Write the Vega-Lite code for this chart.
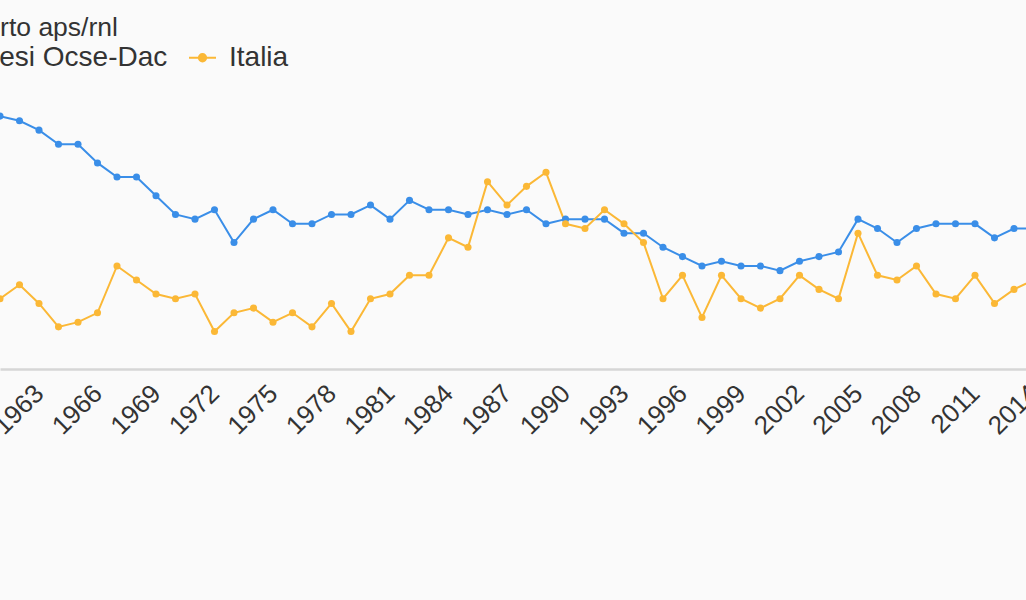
{
  "$schema": "https://vega.github.io/schema/vega-lite/v6.json",
  "width": 1053,
  "height": 281,
  "autosize": {"type": "none"},
  "padding": {"left": 0, "top": 88, "right": -27, "bottom": 231},
  "background": "#fafafa",
  "title": {
    "text": "Rapporto aps/rnl",
    "anchor": "start",
    "frame": "group",
    "dx": -78,
    "offset": -19,
    "baseline": "alphabetic",
    "fontSize": 26.5,
    "font": "Liberation Sans",
    "fontWeight": "normal",
    "color": "#333333"
  },
  "config": {
    "view": {"stroke": null},
    "legend": {
      "orient": "none",
      "legendX": -76,
      "legendY": -45,
      "direction": "horizontal",
      "labelFontSize": 28,
      "labelFont": "Liberation Sans",
      "labelColor": "#333333",
      "labelLimit": 400,
      "symbolType": "M-1,0L1,0M-0.27,0A0.27,0.27,0,1,1,0.27,0A0.27,0.27,0,1,1,-0.27,0Z",
      "symbolSize": 729,
      "symbolStrokeWidth": 2,
      "labelOffset": 12,
      "columnPadding": 17
    }
  },
  "data": {
    "values": [
      {"anno": 1961, "serie": "Paesi Ocse-Dac", "valore": 0.54},
      {"anno": 1962, "serie": "Paesi Ocse-Dac", "valore": 0.53},
      {"anno": 1963, "serie": "Paesi Ocse-Dac", "valore": 0.51},
      {"anno": 1964, "serie": "Paesi Ocse-Dac", "valore": 0.48},
      {"anno": 1965, "serie": "Paesi Ocse-Dac", "valore": 0.48},
      {"anno": 1966, "serie": "Paesi Ocse-Dac", "valore": 0.44},
      {"anno": 1967, "serie": "Paesi Ocse-Dac", "valore": 0.41},
      {"anno": 1968, "serie": "Paesi Ocse-Dac", "valore": 0.41},
      {"anno": 1969, "serie": "Paesi Ocse-Dac", "valore": 0.37},
      {"anno": 1970, "serie": "Paesi Ocse-Dac", "valore": 0.33},
      {"anno": 1971, "serie": "Paesi Ocse-Dac", "valore": 0.32},
      {"anno": 1972, "serie": "Paesi Ocse-Dac", "valore": 0.34},
      {"anno": 1973, "serie": "Paesi Ocse-Dac", "valore": 0.27},
      {"anno": 1974, "serie": "Paesi Ocse-Dac", "valore": 0.32},
      {"anno": 1975, "serie": "Paesi Ocse-Dac", "valore": 0.34},
      {"anno": 1976, "serie": "Paesi Ocse-Dac", "valore": 0.31},
      {"anno": 1977, "serie": "Paesi Ocse-Dac", "valore": 0.31},
      {"anno": 1978, "serie": "Paesi Ocse-Dac", "valore": 0.33},
      {"anno": 1979, "serie": "Paesi Ocse-Dac", "valore": 0.33},
      {"anno": 1980, "serie": "Paesi Ocse-Dac", "valore": 0.35},
      {"anno": 1981, "serie": "Paesi Ocse-Dac", "valore": 0.32},
      {"anno": 1982, "serie": "Paesi Ocse-Dac", "valore": 0.36},
      {"anno": 1983, "serie": "Paesi Ocse-Dac", "valore": 0.34},
      {"anno": 1984, "serie": "Paesi Ocse-Dac", "valore": 0.34},
      {"anno": 1985, "serie": "Paesi Ocse-Dac", "valore": 0.33},
      {"anno": 1986, "serie": "Paesi Ocse-Dac", "valore": 0.34},
      {"anno": 1987, "serie": "Paesi Ocse-Dac", "valore": 0.33},
      {"anno": 1988, "serie": "Paesi Ocse-Dac", "valore": 0.34},
      {"anno": 1989, "serie": "Paesi Ocse-Dac", "valore": 0.31},
      {"anno": 1990, "serie": "Paesi Ocse-Dac", "valore": 0.32},
      {"anno": 1991, "serie": "Paesi Ocse-Dac", "valore": 0.32},
      {"anno": 1992, "serie": "Paesi Ocse-Dac", "valore": 0.32},
      {"anno": 1993, "serie": "Paesi Ocse-Dac", "valore": 0.29},
      {"anno": 1994, "serie": "Paesi Ocse-Dac", "valore": 0.29},
      {"anno": 1995, "serie": "Paesi Ocse-Dac", "valore": 0.26},
      {"anno": 1996, "serie": "Paesi Ocse-Dac", "valore": 0.24},
      {"anno": 1997, "serie": "Paesi Ocse-Dac", "valore": 0.22},
      {"anno": 1998, "serie": "Paesi Ocse-Dac", "valore": 0.23},
      {"anno": 1999, "serie": "Paesi Ocse-Dac", "valore": 0.22},
      {"anno": 2000, "serie": "Paesi Ocse-Dac", "valore": 0.22},
      {"anno": 2001, "serie": "Paesi Ocse-Dac", "valore": 0.21},
      {"anno": 2002, "serie": "Paesi Ocse-Dac", "valore": 0.23},
      {"anno": 2003, "serie": "Paesi Ocse-Dac", "valore": 0.24},
      {"anno": 2004, "serie": "Paesi Ocse-Dac", "valore": 0.25},
      {"anno": 2005, "serie": "Paesi Ocse-Dac", "valore": 0.32},
      {"anno": 2006, "serie": "Paesi Ocse-Dac", "valore": 0.30},
      {"anno": 2007, "serie": "Paesi Ocse-Dac", "valore": 0.27},
      {"anno": 2008, "serie": "Paesi Ocse-Dac", "valore": 0.30},
      {"anno": 2009, "serie": "Paesi Ocse-Dac", "valore": 0.31},
      {"anno": 2010, "serie": "Paesi Ocse-Dac", "valore": 0.31},
      {"anno": 2011, "serie": "Paesi Ocse-Dac", "valore": 0.31},
      {"anno": 2012, "serie": "Paesi Ocse-Dac", "valore": 0.28},
      {"anno": 2013, "serie": "Paesi Ocse-Dac", "valore": 0.30},
      {"anno": 2014, "serie": "Paesi Ocse-Dac", "valore": 0.30},
      {"anno": 1961, "serie": "Italia", "valore": 0.15},
      {"anno": 1962, "serie": "Italia", "valore": 0.18},
      {"anno": 1963, "serie": "Italia", "valore": 0.14},
      {"anno": 1964, "serie": "Italia", "valore": 0.09},
      {"anno": 1965, "serie": "Italia", "valore": 0.10},
      {"anno": 1966, "serie": "Italia", "valore": 0.12},
      {"anno": 1967, "serie": "Italia", "valore": 0.22},
      {"anno": 1968, "serie": "Italia", "valore": 0.19},
      {"anno": 1969, "serie": "Italia", "valore": 0.16},
      {"anno": 1970, "serie": "Italia", "valore": 0.15},
      {"anno": 1971, "serie": "Italia", "valore": 0.16},
      {"anno": 1972, "serie": "Italia", "valore": 0.08},
      {"anno": 1973, "serie": "Italia", "valore": 0.12},
      {"anno": 1974, "serie": "Italia", "valore": 0.13},
      {"anno": 1975, "serie": "Italia", "valore": 0.10},
      {"anno": 1976, "serie": "Italia", "valore": 0.12},
      {"anno": 1977, "serie": "Italia", "valore": 0.09},
      {"anno": 1978, "serie": "Italia", "valore": 0.14},
      {"anno": 1979, "serie": "Italia", "valore": 0.08},
      {"anno": 1980, "serie": "Italia", "valore": 0.15},
      {"anno": 1981, "serie": "Italia", "valore": 0.16},
      {"anno": 1982, "serie": "Italia", "valore": 0.20},
      {"anno": 1983, "serie": "Italia", "valore": 0.20},
      {"anno": 1984, "serie": "Italia", "valore": 0.28},
      {"anno": 1985, "serie": "Italia", "valore": 0.26},
      {"anno": 1986, "serie": "Italia", "valore": 0.40},
      {"anno": 1987, "serie": "Italia", "valore": 0.35},
      {"anno": 1988, "serie": "Italia", "valore": 0.39},
      {"anno": 1989, "serie": "Italia", "valore": 0.42},
      {"anno": 1990, "serie": "Italia", "valore": 0.31},
      {"anno": 1991, "serie": "Italia", "valore": 0.30},
      {"anno": 1992, "serie": "Italia", "valore": 0.34},
      {"anno": 1993, "serie": "Italia", "valore": 0.31},
      {"anno": 1994, "serie": "Italia", "valore": 0.27},
      {"anno": 1995, "serie": "Italia", "valore": 0.15},
      {"anno": 1996, "serie": "Italia", "valore": 0.20},
      {"anno": 1997, "serie": "Italia", "valore": 0.11},
      {"anno": 1998, "serie": "Italia", "valore": 0.20},
      {"anno": 1999, "serie": "Italia", "valore": 0.15},
      {"anno": 2000, "serie": "Italia", "valore": 0.13},
      {"anno": 2001, "serie": "Italia", "valore": 0.15},
      {"anno": 2002, "serie": "Italia", "valore": 0.20},
      {"anno": 2003, "serie": "Italia", "valore": 0.17},
      {"anno": 2004, "serie": "Italia", "valore": 0.15},
      {"anno": 2005, "serie": "Italia", "valore": 0.29},
      {"anno": 2006, "serie": "Italia", "valore": 0.20},
      {"anno": 2007, "serie": "Italia", "valore": 0.19},
      {"anno": 2008, "serie": "Italia", "valore": 0.22},
      {"anno": 2009, "serie": "Italia", "valore": 0.16},
      {"anno": 2010, "serie": "Italia", "valore": 0.15},
      {"anno": 2011, "serie": "Italia", "valore": 0.20},
      {"anno": 2012, "serie": "Italia", "valore": 0.14},
      {"anno": 2013, "serie": "Italia", "valore": 0.17},
      {"anno": 2014, "serie": "Italia", "valore": 0.19}
    ]
  },
  "encoding": {
    "x": {
      "field": "anno",
      "type": "quantitative",
      "scale": {"domain": [1961, 2015], "nice": false, "zero": false},
      "axis": {
        "values": [1963, 1966, 1969, 1972, 1975, 1978, 1981, 1984, 1987, 1990, 1993, 1996, 1999, 2002, 2005, 2008, 2011, 2014],
        "format": "d",
        "title": null,
        "labelAngle": -45,
        "labelAlign": "right",
        "labelBaseline": "middle",
        "labelFontSize": 26,
        "labelFont": "Liberation Sans",
        "labelColor": "#333333",
        "labelOverlap": false,
        "labelBound": false,
        "labelFlush": false,
        "ticks": false,
        "grid": false,
        "domainColor": "#d6d6d6",
        "domainWidth": 2.5,
        "labelPadding": 20
      }
    },
    "y": {
      "field": "valore",
      "type": "quantitative",
      "scale": {"domain": [0, 0.6], "nice": false},
      "axis": null
    },
    "color": {
      "field": "serie",
      "type": "nominal",
      "scale": {"domain": ["Paesi Ocse-Dac", "Italia"], "range": ["#3a8ee8", "#fbb836"]},
      "legend": {
        "title": null,
        "encode": {
          "symbols": {
            "update": {
              "fill": {"scale": "color", "field": "value"},
              "stroke": {"scale": "color", "field": "value"}
            }
          }
        }
      }
    }
  },
  "layer": [
    {"mark": {"type": "line", "strokeWidth": 2, "clip": true}},
    {"mark": {"type": "circle", "size": 50, "opacity": 1, "clip": true}}
  ]
}
